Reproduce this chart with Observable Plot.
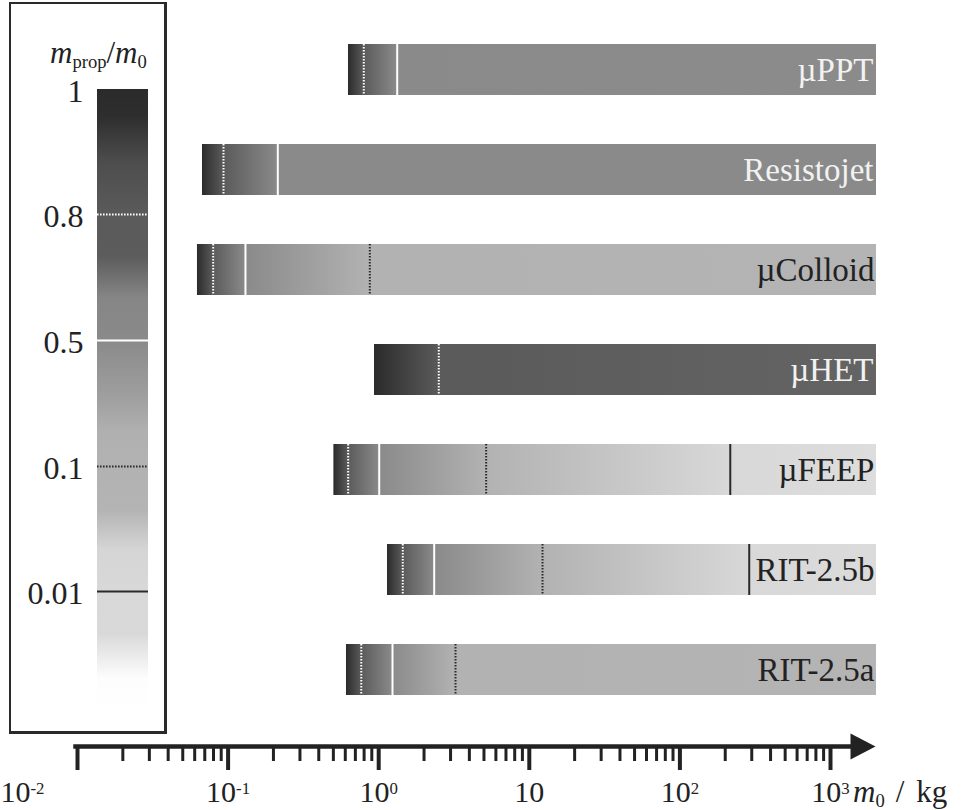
<!DOCTYPE html>
<html><head><meta charset="utf-8">
<script src="https://cdn.jsdelivr.net/npm/d3@7"></script>
<script src="https://cdn.jsdelivr.net/npm/@observablehq/plot@0.6"></script>
<style>
html,body{margin:0;padding:0;background:#fff;}
#root{position:relative;width:963px;height:810px;overflow:hidden;font-family:"Liberation Serif","Times New Roman",serif;color:#222;}
#root svg{position:absolute;left:0;top:0;}
.box{position:absolute;left:9px;top:2px;width:153px;height:727px;border-style:solid;border-color:#2a2a2a;border-width:2px 3px 3px 2px;}
.ltitle{position:absolute;left:50px;top:37px;font-size:31px;line-height:31px;white-space:nowrap;}
.xlabel{position:absolute;left:853px;top:776px;font-size:31px;line-height:31px;white-space:nowrap;}
.xlabel .sl{display:inline-block;margin:0 12px 0 11px;}
sub{font-size:0.6em;vertical-align:baseline;position:relative;top:0.25em;line-height:0;font-style:normal;}
</style></head><body><div id="root"></div>
<script>
// ---------- data ----------
const thrusters = ["µPPT", "Resistojet", "µColloid", "µHET", "µFEEP", "RIT-2.5b", "RIT-2.5a"];
// m0 (kg) at which each bar starts (m_prop/m0 = 1)
const startMass = [0.630, 0.0676, 0.0626, 0.938, 0.504, 1.144, 0.611];
// m0 (kg) where m_prop/m0 reaches 0.8, 0.5, 0.1, 0.01
const mass08  = [0.796, 0.0932, 0.0796, 2.506, 0.627, 1.445, 0.766];
const mass05  = [1.327, 0.2138, 0.1304, null, 1.008, 2.336, 1.235];
const mass01  = [null, null, 0.873, null, 5.17, 12.24, 3.236];
const mass001 = [null, null, null, null, 216, 288.6, null];
const endMass = 2020;
const endFraction = [0.49, 0.5, 0.068, 0.68, 0.0062, 0.0064, 0.068];

const markerFractions = [0.8, 0.5, 0.1, 0.01];
const legendTicks = [1, 0.8, 0.5, 0.1, 0.01];
const legendTickLabels = ["1", "0.8", "0.5", "0.1", "0.01"];

// grey colour map for m_prop/m0
const cmapFraction = [0, 0.003, 0.0066, 0.01, 0.04, 0.068, 0.1, 0.21, 0.31, 0.5, 0.6, 0.66, 0.7, 0.8, 0.88, 0.956, 1];
const cmapGray = ["#ffffff","#fdfdfd","#d9d9d9","#d8d8d8","#d5d5d5","#b4b4b4","#b2b2b2","#b0b0b0","#a0a0a0","#8a8a8a","#868686","#6c6c6c","#5c5c5c","#5a5a5a","#4e4e4e","#2e2e2e","#2b2b2b"];

const majorTicks = [0.01, 0.1, 1, 10, 100, 1000];
const tickLabels = ["10⁻²", "10⁻¹", "10⁰", "10", "10²", "10³"];
const minorTicks = [];
[0.01, 0.1, 1, 10, 100].forEach(d => [2,3,4,5,6,7,8,9].forEach(k => minorTicks.push(+(d * k).toPrecision(3))));
const arrowMass = 1644;

// ---------- styles ----------
const FONT = '"Liberation Serif", "Times New Roman", serif';
const markerStyle = {
  0.8:  {stroke: "#ffffff", strokeDasharray: "1.6,1.4", strokeWidth: 2},
  0.5:  {stroke: "#ffffff", strokeWidth: 2},
  0.1:  {stroke: "#2a2a2a", strokeDasharray: "1.6,1.4", strokeWidth: 2},
  0.01: {stroke: "#2a2a2a", strokeWidth: 2}
};
const cmap = d3.scaleLinear().domain(cmapFraction).range(cmapGray).clamp(true);

const markerMasses = [mass08, mass05, mass01, mass001];
const bars = thrusters.map((name, i) => ({
  name, start: startMass[i], end: endMass, endFraction: endFraction[i],
  stops: [[startMass[i], 1],
          ...markerFractions.map((f, k) => [markerMasses[k][i], f]).filter(d => d[0] != null),
          [endMass, endFraction[i]]]
}));
const markerData = [];
thrusters.forEach((name, i) => markerFractions.forEach((f, k) => {
  const m = markerMasses[k][i];
  if (m != null) markerData.push({name, m0: m, fraction: f});
}));

const arrowSymbol = {
  draw(ctx, size) {
    const r = Math.sqrt(size / Math.PI);
    ctx.moveTo(r * 1.25, 0);
    ctx.lineTo(-r * 1.25, -r * 1.3);
    ctx.lineTo(-r * 1.25, r * 1.3);
    ctx.closePath();
  }
};

const root = document.getElementById("root");
const box = document.createElement("div"); box.className = "box"; root.appendChild(box);

// ---------- main chart ----------
const main = Plot.plot({
  width: 963, height: 810,
  marginLeft: 75, marginRight: 111, marginTop: 18, marginBottom: 64,
  style: {fontFamily: FONT, background: "transparent", color: "#222", overflow: "visible"},
  x: {type: "log", domain: [0.01, 1000], range: [77, 830], axis: null, label: null},
  y: {domain: thrusters, range: [18.33, 720.67], paddingInner: 0.4917, paddingOuter: 0.2458, axis: null, label: null},
  marks: [
    ...bars.map((b, i) => Plot.barX([b], {x1: "start", x2: "end", y: "name", fill: `url(#grad${i})`})),
    ...markerFractions.map(f => Plot.tickX(markerData.filter(d => d.fraction === f), {x: "m0", y: "name", ...markerStyle[f]})),
    Plot.text(bars.filter(b => b.endFraction > 0.3), {x: "end", y: "name", text: "name", textAnchor: "end", dx: -3, fontSize: 33, fill: "#f2f2f2"}),
    Plot.text(bars.filter(b => b.endFraction <= 0.3), {x: "end", y: "name", text: "name", textAnchor: "end", dx: -2, fontSize: 33, fill: "#222"}),
    Plot.frame({anchor: "bottom", stroke: "#222", strokeWidth: 4.5}),
    Plot.axisX(minorTicks, {anchor: "bottom", tickSize: 15, strokeWidth: 3, stroke: "#222", tickFormat: () => "", label: null}),
    Plot.axisX(majorTicks, {anchor: "bottom", tickSize: 24, strokeWidth: 4, stroke: "#222", tickFormat: () => "", label: null}),
    Plot.dot([arrowMass], {x: d => d, frameAnchor: "bottom", symbol: arrowSymbol, r: 10, fill: "#222", stroke: "none"}),
    Plot.text(majorTicks.slice(1), {x: d => d, text: (d, i) => tickLabels[i + 1], frameAnchor: "bottom", lineAnchor: "bottom", dy: 55, fontSize: 30, fill: "#222"}),
    Plot.text(majorTicks.slice(0, 1), {x: d => d, text: () => tickLabels[0], frameAnchor: "bottom", lineAnchor: "bottom", textAnchor: "start", dx: -77, dy: 55, fontSize: 30, fill: "#222"})
  ]
});
{
  const xs = main.scale("x");
  const defs = d3.select(main).insert("defs", ":first-child");
  bars.forEach((b, i) => {
    const x1 = xs.apply(b.start), x2 = xs.apply(b.end);
    const g = defs.append("linearGradient").attr("id", `grad${i}`).attr("gradientUnits", "userSpaceOnUse")
      .attr("x1", x1).attr("x2", x2).attr("y1", 0).attr("y2", 0);
    b.stops.forEach(([m, f]) => g.append("stop").attr("offset", (xs.apply(m) - x1) / (x2 - x1)).attr("stop-color", cmap(f)));
  });
  // typeset exponents of the tick labels as raised tspans
  const supMap = {"⁻": "-", "⁰": "0", "¹": "1", "²": "2", "³": "3"};
  d3.select(main).selectAll("text").each(function () {
    const t = this.textContent;
    if (!tickLabels.includes(t)) return;
    const base = t.replace(/[⁻⁰¹²³]/g, "");
    const sup = t.slice(base.length).replace(/./g, c => supMap[c] || c);
    if (!sup) return;
    this.textContent = base;
    d3.select(this).append("tspan").attr("dy", "-0.45em").attr("font-size", "0.56em").text(sup);
  });
}
root.appendChild(main);

// ---------- legend ----------
const legend = Plot.plot({
  width: 170, height: 740,
  marginLeft: 97, marginRight: 22, marginTop: 89, marginBottom: 24,
  style: {fontFamily: FONT, background: "transparent", color: "#222", overflow: "visible"},
  y: {type: "linear", domain: [0, 0.01, 0.1, 0.5, 0.8, 1], range: [716, 591, 466, 340, 214, 89], axis: null, label: null},
  marks: [
    Plot.rect([d3.extent(cmapFraction)], {y1: d => d[0], y2: d => d[1], fill: "url(#cbar)"}),
    ...markerFractions.map(f => Plot.ruleY([f], {...markerStyle[f]})),
    Plot.text(legendTicks, {y: d => d, text: (d, i) => legendTickLabels[i], frameAnchor: "left", textAnchor: "end", dx: -14, dy: 2, fontSize: 32, fill: "#222"})
  ]
});
{
  const ys = legend.scale("y");
  const [lo, hi] = d3.extent(cmapFraction);
  const y1 = ys.apply(hi), y2 = ys.apply(lo);
  const defs = d3.select(legend).insert("defs", ":first-child");
  const g = defs.append("linearGradient").attr("id", "cbar").attr("gradientUnits", "userSpaceOnUse")
    .attr("x1", 0).attr("x2", 0).attr("y1", y1).attr("y2", y2);
  cmapFraction.slice().reverse().forEach(f => g.append("stop").attr("offset", (ys.apply(f) - y1) / (y2 - y1)).attr("stop-color", cmap(f)));
}
root.appendChild(legend);

const title = document.createElement("div");
title.className = "ltitle";
title.innerHTML = "<i>m</i><sub>prop</sub>/<i>m</i><sub>0</sub>";
root.appendChild(title);

const xlabel = document.createElement("div");
xlabel.className = "xlabel";
xlabel.innerHTML = "<i>m</i><sub>0</sub><span class=\"sl\">/</span>kg";
root.appendChild(xlabel);
</script>
</body></html>
